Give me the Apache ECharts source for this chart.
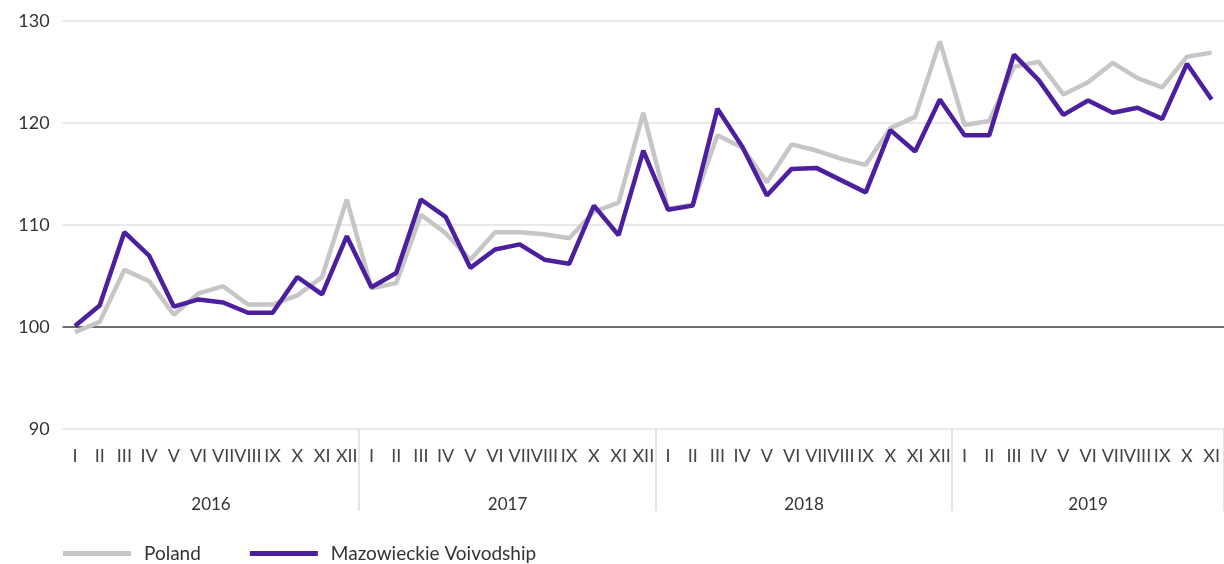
<!DOCTYPE html>
<html>
<head>
<meta charset="utf-8">
<style>
  html, body { margin: 0; padding: 0; background: #fff; }
  #chart { width: 1224px; height: 564px; }
</style>
<script src="https://cdn.jsdelivr.net/npm/echarts@6/dist/echarts.min.js"></script>
</head>
<body>
<div id="chart"></div>
<script>
var monthNames = ['I', 'II', 'III', 'IV', 'V', 'VI', 'VII', 'VIII', 'IX', 'X', 'XI', 'XII'];
var years = ['2016', '2017', '2018', '2019'];
var monthsIn2019 = 11;
var yTicks = [90, 100, 110, 120, 130];

var poland = [
    99.5, 100.5, 105.6, 104.5, 101.2, 103.3, 104.0, 102.2, 102.2, 103.1, 104.9, 112.5,
    103.8, 104.3, 111.0, 109.2, 106.6, 109.3, 109.3, 109.1, 108.7, 111.3, 112.2, 121.0,
    111.6, 112.0, 118.8, 117.6, 114.2, 117.9, 117.3, 116.5, 115.9, 119.5, 120.6, 128.0,
    119.8, 120.2, 125.5, 126.0, 122.8, 124.0, 125.9, 124.4, 123.5, 126.5, 126.9
];
var mazowieckie = [
    100.1, 102.1, 109.3, 107.0, 102.0, 102.7, 102.4, 101.4, 101.4, 104.9, 103.2, 108.9,
    103.9, 105.3, 112.5, 110.8, 105.8, 107.6, 108.1, 106.6, 106.2, 111.9, 109.0, 117.3,
    111.5, 111.9, 121.4, 117.7, 112.9, 115.5, 115.6, 114.4, 113.2, 119.3, 117.2, 122.3,
    118.8, 118.8, 126.7, 124.2, 120.8, 122.2, 121.0, 121.5, 120.4, 125.8, 122.3
];

// one category per month, year by year
var categories = [];
var yearOf = [];
years.forEach(function(y, yi) {
    var n = yi === years.length - 1 ? monthsIn2019 : 12;
    for (var m = 0; m < n; m++) {
        categories.push(monthNames[m]);
        yearOf.push(y);
    }
});

// index where each year starts, and the middle of each year
var yearStart = {};
var yearMid = {};
years.forEach(function(y) {
    var first = yearOf.indexOf(y);
    var last = yearOf.lastIndexOf(y);
    yearStart[first] = true;
    yearMid[Math.floor((first + last) / 2)] = (last - first) % 2 === 1;
});

var chart = echarts.init(document.getElementById('chart'));
var font = 'Lato';

var option = {
    backgroundColor: '#fff',
    animation: false,
    textStyle: { fontFamily: font },
    grid: {
        left: 62.6,
        top: 21,
        width: 1163,
        height: 408,
        containLabel: false
    },
    legend: {
        left: 58,
        top: 539,
        icon: 'rect',
        itemWidth: 68,
        itemHeight: 5,
        itemGap: 49,
        textStyle: { fontSize: 19, color: '#333', fontFamily: font, padding: [0, 0, 0, 8] },
        data: ['Poland', 'Mazowieckie Voivodship']
    },
    xAxis: [{
        type: 'category',
        data: categories,
        boundaryGap: true,
        axisLine: { show: false },
        axisTick: { show: false },
        axisLabel: {
            interval: 0,
            margin: 18,
            fontSize: 18,
            color: '#444',
            fontFamily: font
        }
    }, {
        type: 'category',
        data: categories,
        boundaryGap: true,
        position: 'bottom',
        axisLine: { show: false },
        axisTick: {
            show: true,
            length: 82,
            interval: function(index) { return yearStart[index] === true && index > 0; },
            lineStyle: { color: '#dcdcdc', width: 1.5 }
        },
        axisLabel: {
            margin: 67,
            fontSize: 17,
            color: '#333',
            fontFamily: font,
            interval: function(index) { return yearMid.hasOwnProperty(index); },
            formatter: function(value, index) {
                return yearMid[index] ? '{s|' + yearOf[index] + '}' : yearOf[index];
            },
            rich: {
                s: { fontSize: 17, color: '#333', fontFamily: font, padding: [0, 0, 0, 25] }
            }
        }
    }],
    yAxis: {
        type: 'value',
        min: yTicks[0],
        max: yTicks[yTicks.length - 1],
        interval: 10,
        axisLine: { show: false },
        axisTick: { show: false },
        axisLabel: { fontSize: 18, color: '#333', margin: 13, fontFamily: font },
        splitLine: { lineStyle: { color: '#e2e2e2', width: 1.5 } }
    },
    series: [{
        name: 'Poland',
        type: 'line',
        data: poland,
        showSymbol: false,
        symbol: 'none',
        itemStyle: { color: '#c6c6c6' },
        lineStyle: { color: '#c6c6c6', width: 4.5 },
        z: 2
    }, {
        name: 'Mazowieckie Voivodship',
        type: 'line',
        data: mazowieckie,
        showSymbol: false,
        symbol: 'none',
        itemStyle: { color: '#4b1f9e' },
        lineStyle: { color: '#4b1f9e', width: 4.5 },
        z: 3,
        markLine: {
            silent: true,
            symbol: 'none',
            label: { show: false },
            lineStyle: { color: '#444', width: 1.5, type: 'solid' },
            data: [{ yAxis: 100 }],
            z: 1
        }
    }]
};
chart.setOption(option);
</script>
</body>
</html>
